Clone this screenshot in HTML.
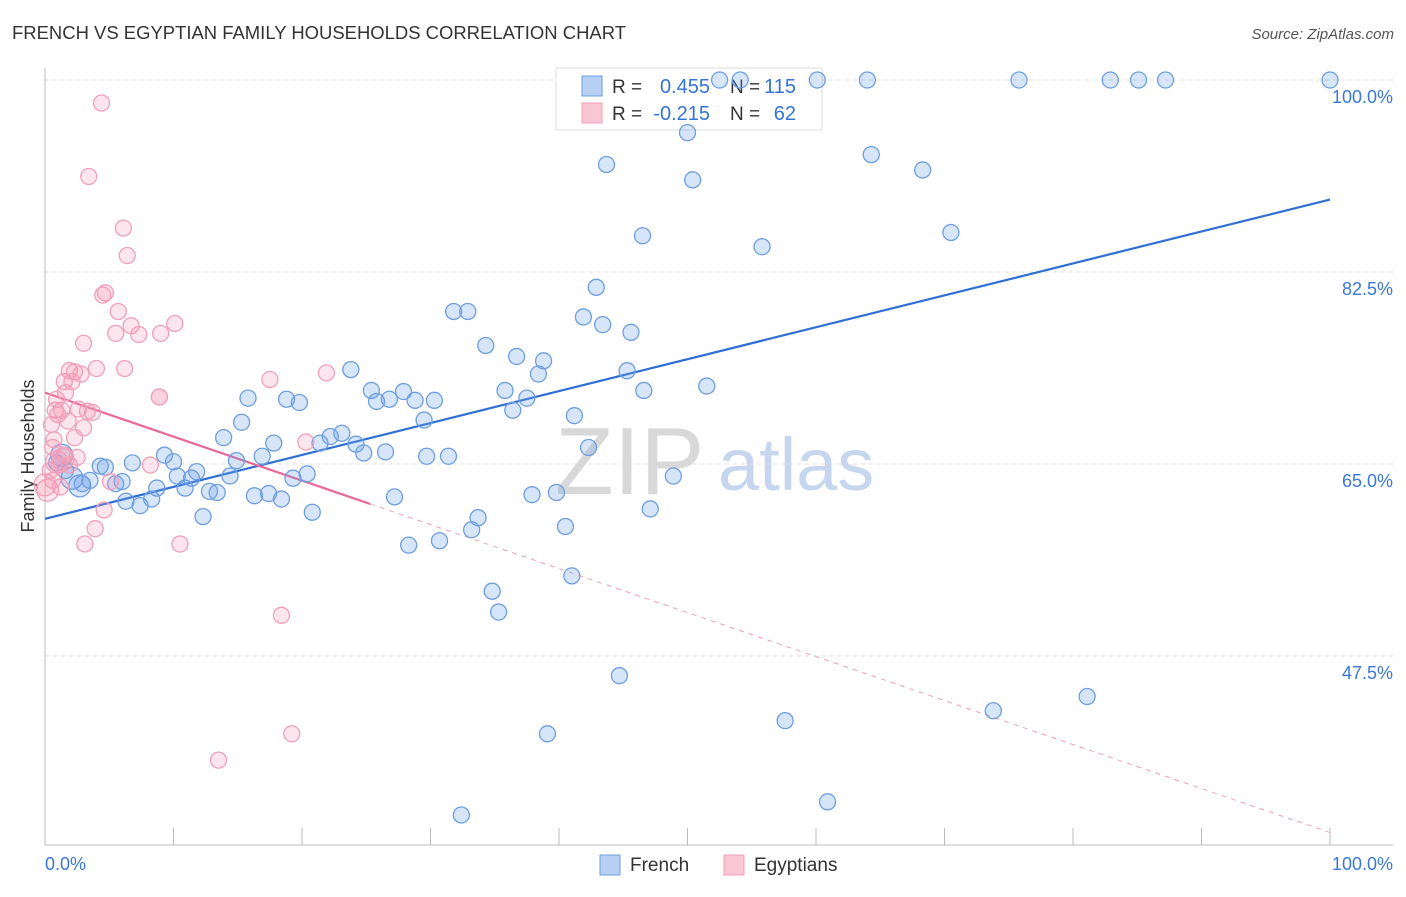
<!DOCTYPE html>
<html><head><meta charset="utf-8"><style>
body{margin:0;background:#fff;font-family:"Liberation Sans",sans-serif;}
svg text{font-family:"Liberation Sans",sans-serif;}
</style></head><body>
<svg id="chart" width="1406" height="892" viewBox="0 0 1406 892" xmlns="http://www.w3.org/2000/svg">
<text x="12" y="39" font-size="18" fill="#333" textLength="614" lengthAdjust="spacingAndGlyphs">FRENCH VS EGYPTIAN FAMILY HOUSEHOLDS CORRELATION CHART</text>
<text x="1394" y="39" font-size="15" fill="#555" font-style="italic" text-anchor="end">Source: ZipAtlas.com</text>
<text transform="translate(34,456) rotate(-90)" font-size="18" fill="#333" text-anchor="middle">Family Households</text>
<g>
<text x="555" y="494" font-size="96" fill="#d8d8d8" font-family="Liberation Serif,serif">ZIP</text>
<text x="718" y="490" font-size="74" fill="#c5d6ee">atlas</text>
</g>
<g id="grid"></g><g id="axes"></g>
<g>
<rect x="556" y="68" width="266" height="62" fill="#fff" stroke="#ddd"/>
<rect x="582" y="76" width="20" height="20" fill="#b8d0f4" stroke="#6d9ee0"/>
<text x="612" y="93" font-size="19" fill="#333">R =</text>
<text x="710" y="93" font-size="20" fill="#3574d4" text-anchor="end">0.455</text>
<text x="730" y="93" font-size="19" fill="#333">N =</text>
<text x="796" y="93" font-size="20" fill="#3574d4" text-anchor="end">115</text>
<rect x="582" y="103" width="20" height="20" fill="#f8c6d4" stroke="#f0a0b8"/>
<text x="612" y="120" font-size="19" fill="#333">R =</text>
<text x="710" y="120" font-size="20" fill="#3574d4" text-anchor="end">-0.215</text>
<text x="730" y="120" font-size="19" fill="#333">N =</text>
<text x="796" y="120" font-size="20" fill="#3574d4" text-anchor="end">62</text>
</g>
<g id="trend"></g><g id="pts"></g>
<g>
<rect x="600" y="855" width="20" height="20" fill="#b8d0f4" stroke="#6d9ee0"/>
<text x="630" y="871" font-size="19" fill="#333">French</text>
<rect x="724" y="855" width="20" height="20" fill="#f8c6d4" stroke="#f0a0b8"/>
<text x="754" y="871" font-size="19" fill="#333">Egyptians</text>
</g>
</svg>
<script>
const frenchX=[52.5,54.1,60.1,64.0,75.8,82.9,85.1,87.2,100,50.0,43.7,50.4,64.3,68.3,46.5,55.8,70.5,42.9,31.8,32.9,41.9,43.4,45.6,34.3,36.7,38.8,38.4,45.3,23.8,25.4,35.8,51.5,46.6,27.9,15.8,18.8,19.8,25.8,26.8,28.8,30.3,37.5,36.4,41.2,15.3,29.5,13.9,17.8,23.1,22.2,21.4,24.2,24.8,26.5,16.9,29.7,31.4,9.3,14.9,10.0,6.8,4.3,4.7,11.8,10.3,11.4,14.4,20.4,19.3,2.9,5.5,6.0,8.7,10.9,12.8,13.4,16.3,17.4,18.4,6.3,7.4,8.3,27.2,37.9,39.8,42.3,48.9,12.3,20.8,33.7,33.2,40.5,47.1,28.3,30.7,41.0,34.8,35.3,44.7,39.1,57.6,73.8,81.1,60.9,32.4,0.9,1.6,2.1,2.7,3.5,1.3];
const frenchY=[100,100,100,100,100,100,100,100,100,95.2,92.3,90.9,93.2,91.8,85.8,84.8,86.1,81.1,78.9,78.9,78.4,77.7,77.0,75.8,74.8,74.4,73.2,73.5,73.6,71.7,71.7,72.1,71.7,71.6,71.0,70.9,70.6,70.7,70.9,70.8,70.8,71.0,69.9,69.4,68.8,69.0,67.4,66.9,67.8,67.5,66.9,66.8,66.0,66.1,65.7,65.7,65.7,65.8,65.3,65.2,65.1,64.8,64.7,64.3,63.9,63.7,63.9,64.1,63.7,63.2,63.2,63.4,62.8,62.8,62.5,62.4,62.1,62.3,61.8,61.6,61.2,61.8,62.0,62.2,62.4,66.5,63.9,60.2,60.6,60.1,59.0,59.3,60.9,57.6,58.0,54.8,53.4,51.5,45.7,40.4,41.6,42.5,43.8,34.2,33.0,65.1,64.4,63.7,63.0,63.5,65.8];
const egyptX=[4.4,3.4,6.1,6.4,4.7,4.5,5.7,6.7,5.5,7.3,9.0,10.1,3.0,1.9,2.3,4.0,6.2,2.8,1.5,2.1,8.9,8.9,17.5,21.9,1.6,0.8,1.3,1.0,2.6,3.3,3.7,1.8,20.3,3.0,2.3,0.7,0.6,1.5,2.5,1.1,1.9,0.4,0.6,1.2,5.1,4.6,3.9,3.1,10.5,8.2,18.4,19.2,13.5,0,0.2,1.4,0.9,0.5,0.9];
const egyptY=[97.9,91.2,86.5,84.0,80.6,80.4,78.9,77.6,76.9,76.8,76.9,77.8,76.0,73.5,73.4,73.7,73.7,73.2,72.5,72.5,71.1,71.1,72.7,73.3,71.5,69.9,69.9,69.5,70.0,69.8,69.7,68.9,67.0,68.3,67.4,67.2,66.5,65.8,65.6,64.9,64.9,64.4,63.5,62.9,63.4,60.8,59.1,57.7,57.7,64.9,51.2,40.4,38.0,63.1,62.6,65.4,65.2,68.6,70.9];
const bigFrench=[107,108,110];
const trendFrench=[60.0,89.1];
const trendEgypt=[71.5,31.4];
const trendEgyptSolidEnd=25.3;
const yTicks=[100,82.5,65.0,47.5];
const yTickLabels=["100.0%","82.5%","65.0%","47.5%"];
const xTicks=[0,10,20,30,40,50,60,70,80,90,100];

const NS="http://www.w3.org/2000/svg";
const X=v=>45+v*12.85, Y=v=>80+(100-v)*10.97;
function mk(tag,attrs,parent){const e=document.createElementNS(NS,tag);for(const k in attrs)e.setAttribute(k,attrs[k]);document.getElementById(parent).appendChild(e);return e;}
yTicks.forEach((t,i)=>{
 const l=mk('line',{x1:45,x2:1393,y1:Y(t),y2:Y(t),stroke:'#ddd','stroke-dasharray':'4,4'},'grid');
 
 
 const tx=mk('text',{x:1393,y:Y(t)+23,'font-size':18,fill:'#3a78d8','text-anchor':'end'},'grid');tx.textContent=yTickLabels[i];
 
 
});
let a=mk('line',{x1:45,x2:45,y1:68,y2:845,stroke:'#bbb'},'axes');


a=mk('line',{x1:45,x2:1393,y1:845,y2:845,stroke:'#bbb'},'axes');


xTicks.forEach(t=>{const l=mk('line',{x1:X(t),x2:X(t),y1:828,y2:845,stroke:'#bbb'},'axes');
 
 });
let t1=mk('text',{x:45,y:870,'font-size':18,fill:'#3a78d8'},'axes');t1.textContent='0.0%';


t1=mk('text',{x:1393,y:870,'font-size':18,fill:'#3a78d8','text-anchor':'end'},'axes');t1.textContent='100.0%';



frenchX.forEach((x,i)=>{const r=bigFrench.includes(i)?11:8;
 const c=mk('circle',{cx:X(x),cy:Y(frenchY[i]),r:r,fill:'rgba(110,160,232,0.28)',stroke:'#6d9ee0','stroke-width':1.3},'pts');
 
 });
egyptX.forEach((x,i)=>{const r=(i>=53&&i<=56)?11:8;
 const c=mk('circle',{cx:X(x),cy:Y(egyptY[i]),r:r,fill:'rgba(242,150,180,0.25)',stroke:'#f0a0b8','stroke-width':1.3},'pts');
 
 });
let tl=mk('line',{x1:X(0),y1:Y(trendFrench[0]),x2:X(100),y2:Y(trendFrench[1]),stroke:'#2f6fd6','stroke-width':2.2},'trend');


const ey=v=>trendEgypt[0]+(trendEgypt[1]-trendEgypt[0])*v/100;
tl=mk('line',{x1:X(0),y1:Y(ey(0)),x2:X(trendEgyptSolidEnd),y2:Y(ey(trendEgyptSolidEnd)),stroke:'#e8699a','stroke-width':2.2},'trend');


tl=mk('line',{x1:X(trendEgyptSolidEnd),y1:Y(ey(trendEgyptSolidEnd)),x2:X(100),y2:Y(ey(100)),stroke:'#eaa0bc','stroke-width':1,'stroke-dasharray':'5,5'},'trend');


</script>
</body></html>
